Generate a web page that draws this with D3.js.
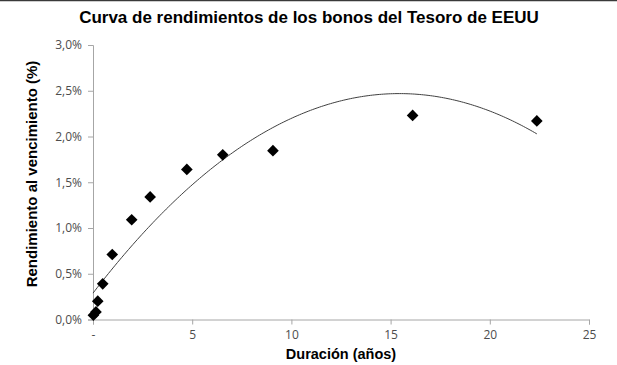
<!DOCTYPE html>
<html>
<head>
<meta charset="utf-8">
<script src="https://cdn.jsdelivr.net/npm/d3@7"></script>
<style>
  body { margin: 0; background: #fff; }
  svg { display: block; }
</style>
</head>
<body>
<svg id="chart" width="617" height="365"></svg>
<script>
// durations (years) and yields (%)
var duracion = [0.02, 0.15, 0.24, 0.49, 0.97, 1.95, 2.88, 4.73, 6.54, 9.07, 16.11, 22.37]
var rendimiento = [0.047, 0.083, 0.20, 0.39, 0.71, 1.09, 1.34, 1.64, 1.80, 1.845, 2.23, 2.17]
var xTicks = [0, 5, 10, 15, 20, 25]
var yTicks = [0, 0.5, 1.0, 1.5, 2.0, 2.5, 3.0]

// least squares fit of order 2, like the excel trendline
function polyFit2(xs, ys)
{
    var n = xs.length
    var s = [0, 0, 0, 0, 0], t = [0, 0, 0]
    for (var i = 0; i < n; i++)
    {
        var p = 1
        for (var k = 0; k < 5; k++) { s[k] += p; if (k < 3) t[k] += p * ys[i]; p *= xs[i] }
    }
    var A = [[s[0], s[1], s[2], t[0]], [s[1], s[2], s[3], t[1]], [s[2], s[3], s[4], t[2]]]
    for (var c = 0; c < 3; c++)
    {
        for (var r = c + 1; r < 3; r++)
        {
            var f = A[r][c] / A[c][c]
            for (var j = c; j < 4; j++) A[r][j] -= f * A[c][j]
        }
    }
    var coef = [0, 0, 0]
    for (var r2 = 2; r2 >= 0; r2--)
    {
        var v = A[r2][3]
        for (var j2 = r2 + 1; j2 < 3; j2++) v -= A[r2][j2] * coef[j2]
        coef[r2] = v / A[r2][r2]
    }
    return coef
}

function drawChart()
{
    var svg = d3.select("#chart")
    var left = 93, right = 589, plotTop = 45, bottom = 319.5

    svg.append("line")
        .attr("x1", 0).attr("x2", 617).attr("y1", 0.5).attr("y2", 0.5)
        .style("stroke", "#3a3a3a").style("stroke-width", 1.5)

    svg.append("text")
        .attr("text-anchor", "middle")
        .attr("x", 309)
        .attr("y", 23)
        .style("font-family", "Liberation Sans, Arial, sans-serif")
        .style("font-size", "17px")
        .style("font-weight", "bold")
        .style("fill", "#000")
        .text("Curva de rendimientos de los bonos del Tesoro de EEUU")

    var xScale = d3.scaleLinear().domain([0, 25]).range([left, right])
    var yScale = d3.scaleLinear().domain([0, 3]).range([bottom, plotTop])

    var x_axis = d3.axisBottom(xScale)
        .tickValues(xTicks)
        .tickSize(5)
        .tickPadding(6)
        .tickFormat(function (d) { return d === 0 ? "-" : d })

    var y_axis = d3.axisLeft(yScale)
        .tickValues(yTicks)
        .tickSize(5)
        .tickPadding(6)
        .tickFormat(function (d) { return d.toFixed(1).replace(".", ",") + "%" })

    var gx = svg.append("g")
        .attr("transform", `translate(0, ${bottom})`)
        .call(x_axis)
    var gy = svg.append("g")
        .attr("transform", `translate(${left}, 0)`)
        .call(y_axis)

    ;[gx, gy].forEach(function (g) {
        g.select(".domain").style("stroke", "#a6a6a6")
        g.selectAll(".tick line").style("stroke", "#a6a6a6")
        g.selectAll(".tick text")
            .style("font-family", "Open Sans, Liberation Sans, sans-serif")
            .style("font-size", "12px")
            .style("fill", "#4d4d4d")
    })

    // axis titles
    svg.append("text")
        .attr("text-anchor", "middle")
        .attr("x", 341)
        .attr("y", 359)
        .style("font-family", "Liberation Sans, Arial, sans-serif")
        .style("font-size", "14.5px")
        .style("font-weight", "bold")
        .text("Duración (años)")

    svg.append("g")
        .attr("transform", "translate(" + 37 + ", " + 174 + ")")
        .append("text")
        .attr("text-anchor", "middle")
        .attr("transform", "rotate(-90)")
        .style("font-family", "Liberation Sans, Arial, sans-serif")
        .style("font-size", "15px")
        .style("font-weight", "bold")
        .text("Rendimiento al vencimiento (%)")

    // trendline
    var coef = polyFit2(duracion, rendimiento)
    var xMax = d3.max(duracion)
    var fitPts = d3.range(0, 201).map(function (i) { return xMax * i / 200 })
    var line = d3.line()
        .x(function (d) { return xScale(d) })
        .y(function (d) { return yScale(coef[0] + coef[1] * d + coef[2] * d * d) })

    svg.append("path")
        .attr("d", line(fitPts))
        .style("fill", "none")
        .style("stroke", "#404040")
        .style("stroke-width", 1)

    // points
    var diamond = d3.symbol().type(d3.symbolSquare).size(68)
    svg.selectAll(".pt")
        .data(duracion)
        .enter().append("path")
        .attr("class", "pt")
        .attr("d", diamond)
        .attr("transform", function (d, i) {
            return "translate(" + xScale(d) + "," + yScale(rendimiento[i]) + ") rotate(45)"
        })
        .style("fill", "#000")
}

drawChart()
</script>
</body>
</html>
